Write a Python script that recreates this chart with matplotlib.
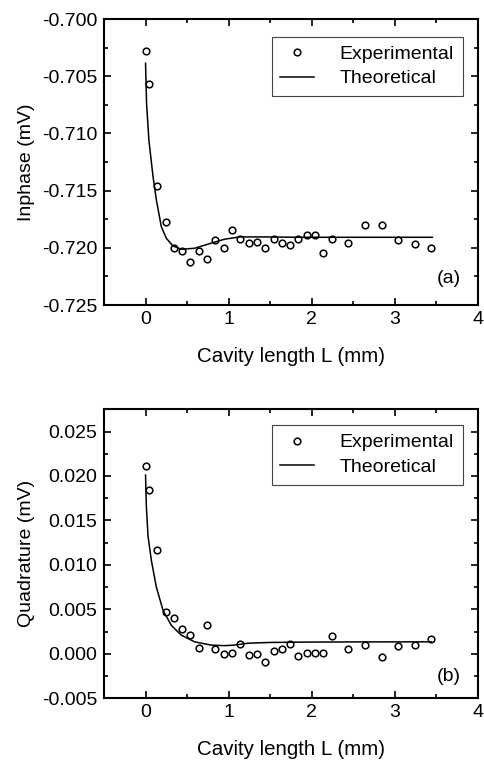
import matplotlib
matplotlib.use("Agg")
import matplotlib.pyplot as plt
from matplotlib.ticker import MultipleLocator, FormatStrFormatter

plt.rcParams['font.family'] = ['Liberation Sans', 'DejaVu Sans']
plt.rcParams['axes.unicode_minus'] = False

# Experimental data
L_exp = [0.0, 0.04, 0.14, 0.24, 0.34, 0.44, 0.54, 0.64, 0.74, 0.84, 0.94, 1.04,
         1.14, 1.24, 1.34, 1.44, 1.54, 1.64, 1.74, 1.84, 1.94, 2.04, 2.14, 2.24,
         2.44, 2.64, 2.84, 3.04, 3.24, 3.44]
inphase_exp = [-0.70277, -0.70568, -0.71462, -0.71775, -0.72000, -0.72026, -0.72124,
               -0.72026, -0.72095, -0.71934, -0.72000, -0.71844, -0.71919, -0.71954,
               -0.71948, -0.72006, -0.71925, -0.71954, -0.71974, -0.71919, -0.71884,
               -0.71884, -0.72046, -0.71925, -0.71954, -0.71803, -0.71803, -0.71936,
               -0.71965, -0.72006]
quad_exp = [0.0211, 0.0184, 0.0117, 0.00469, 0.00405, 0.00277, 0.00214, 0.00071,
            0.00322, 0.00049, -0.00007, 0.00015, 0.00116, -0.00015, -0.00004,
            -0.00090, 0.00030, 0.00060, 0.00109, -0.00019, 0.00011, 0.00015,
            0.00011, 0.00206, 0.00056, 0.00101, -0.00041, 0.00086, 0.00101, 0.00165]

# Theoretical curves
L_th_a = [0.0, 0.012, 0.04, 0.09, 0.13, 0.19, 0.25, 0.33, 0.43, 0.59, 0.81, 0.95,
          1.13, 1.45, 1.85, 2.5, 3.45]
inphase_th = [-0.70387, -0.70737, -0.71058, -0.71378, -0.71582, -0.71816, -0.71917,
              -0.71984, -0.72013, -0.72004, -0.71955, -0.71925, -0.71905, -0.71905,
              -0.71908, -0.71908, -0.71908]
L_th_b = [0.0, 0.01, 0.03, 0.07, 0.13, 0.21, 0.31, 0.43, 0.59, 0.79, 0.95, 1.05,
          1.24, 1.5, 1.9, 2.5, 3.44]
quad_th = [0.0201, 0.0165, 0.0132, 0.0105, 0.0075, 0.0049, 0.0032, 0.0021, 0.00135,
           0.00098, 0.00092, 0.00097, 0.00120, 0.00128, 0.00132, 0.00134, 0.00135]

labels = ["Experimental", "Theoretical"]
ylabels = ["Inphase (mV)", "Quadrature (mV)"]
xlabel = "Cavity length L (mm)"
panel_tags = ["(a)", "(b)"]

FS = 14
fig = plt.figure(figsize=(4.84, 7.60), dpi=100)
ax_a = fig.add_axes([104/484, 1-305/760, 374/484, 286/760])
ax_b = fig.add_axes([104/484, 1-698.3/760, 374/484, 289/760])


def style(ax, ylim, ymajor, yminor, ylabel, tag, tag_y, leg_anchor):
    ax.set_xlim(-0.5, 4)
    ax.set_ylim(*ylim)
    ax.xaxis.set_major_locator(MultipleLocator(1))
    ax.xaxis.set_minor_locator(MultipleLocator(0.5))
    ax.yaxis.set_major_locator(MultipleLocator(ymajor))
    ax.yaxis.set_minor_locator(MultipleLocator(yminor))
    ax.yaxis.set_major_formatter(FormatStrFormatter('%.3f'))
    ax.xaxis.set_major_formatter(FormatStrFormatter('%d'))
    ax.tick_params(which='both', direction='in', top=True, right=True,
                   labelsize=FS, width=1.2)
    ax.tick_params(which='major', length=5)
    ax.tick_params(which='minor', length=3)
    ax.tick_params(axis='y', pad=5)
    ax.tick_params(axis='x', pad=4)
    for s in ax.spines.values():
        s.set_linewidth(1.5)
    ax.set_xlabel(xlabel, fontsize=14.8, labelpad=14)
    ax.set_ylabel(ylabel, fontsize=14, labelpad=5)
    ax.text(0.955, tag_y, tag, transform=ax.transAxes, ha='right', va='center',
            fontsize=FS)
    leg = ax.legend(loc='upper right', bbox_to_anchor=leg_anchor, borderaxespad=0,
                    fontsize=FS, frameon=True, fancybox=False, framealpha=1,
                    edgecolor='#444444', handlelength=1.75, handletextpad=1.3,
                    labelspacing=0.35, borderpad=0.45)
    leg.get_frame().set_linewidth(0.8)


ax_a.plot(L_exp, inphase_exp, linestyle='none', marker='o', markersize=4.8,
          markerfacecolor='white', markeredgecolor='black', markeredgewidth=1.1,
          label=labels[0])
ax_a.plot(L_th_a, inphase_th, color='black', linewidth=1.1, label=labels[1])
style(ax_a, (-0.725, -0.700), 0.005, 0.0025, ylabels[0], panel_tags[0], 0.094,
      ((462.7-104)/374, (305-36.7)/286))

ax_b.plot(L_exp, quad_exp, linestyle='none', marker='o', markersize=4.8,
          markerfacecolor='white', markeredgecolor='black', markeredgewidth=1.1,
          label=labels[0])
ax_b.plot(L_th_b, quad_th, color='black', linewidth=1.1, label=labels[1])
style(ax_b, (-0.005, 0.0275), 0.005, 0.0025, ylabels[1], panel_tags[1], 0.077,
      ((462.7-104)/374, (698.3-425)/289))

fig.savefig("out.png", dpi=100)
